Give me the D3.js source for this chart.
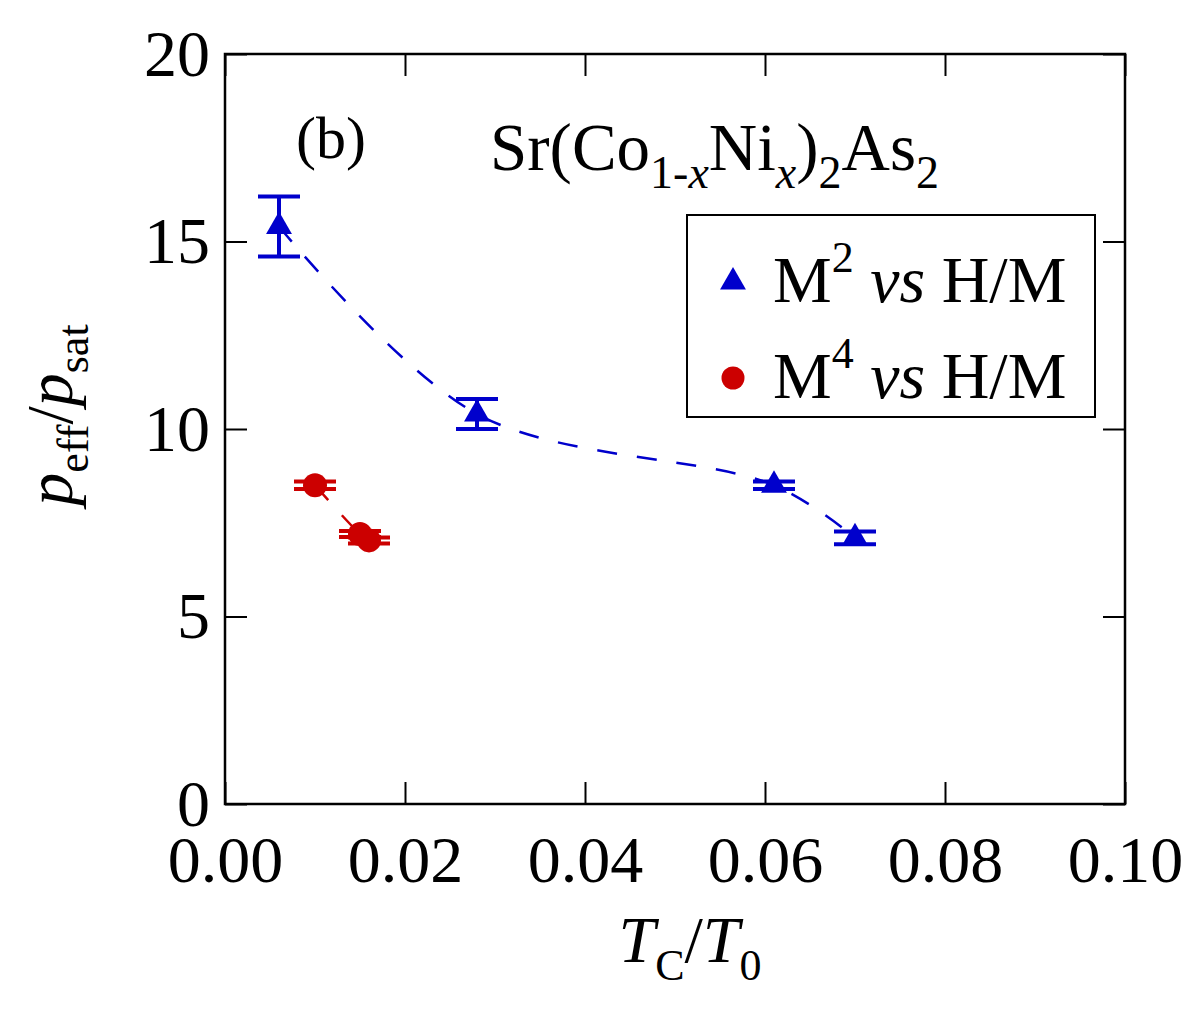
<!DOCTYPE html>
<html>
<meta charset="utf-8">
<head>
  <title>peff/psat vs Tc/T0</title>
</head>
<style>
body { margin: 0; background: white; }
text, tspan { font-family: "Liberation Serif", "Times New Roman", serif; fill: black; }
</style>
<body>
<div id="chart"></div>
<script src="https://d3js.org/d3.v7.min.js"></script>
<script>

// M^2 vs H/M (blue triangles)
var m2X = [0.006, 0.028, 0.061, 0.070];
var m2Y = [15.4, 10.4, 8.5, 7.1];
var m2Err = [0.8, 0.4, 0.1, 0.17];

// M^4 vs H/M (red circles)
var m4X = [0.010, 0.015, 0.016];
var m4Y = [8.5, 7.2, 7.03];
var m4Err = [0.1, 0.08, 0.08];

var xTicks = [0, 0.02, 0.04, 0.06, 0.08, 0.10];
var yTicks = [0, 5, 10, 15, 20];

var W = 1196, H = 1017;
var margin = {top: 54, right: 71, bottom: 213, left: 225};
var width = W - margin.left - margin.right;
var height = H - margin.top - margin.bottom;

var blue = "#0000cc", red = "#cc0000";

var svg = d3.select('#chart')
  .append('svg')
  .attr('width', W)
  .attr('height', H);

var g = svg.append('g')
  .attr('transform', `translate(${margin.left},${margin.top})`);

var x = d3.scaleLinear().domain([0, 0.10]).range([0, width]);
var y = d3.scaleLinear().domain([0, 20]).range([height, 0]);

// axes, ticks pointing inward
var tl = 22;
var xAxis = g.append('g')
  .attr('transform', `translate(0,${height})`)
  .call(d3.axisBottom(x).tickValues(xTicks).tickSize(-tl).tickPadding(31)
    .tickFormat(d3.format('.2f')));
var yAxis = g.append('g')
  .call(d3.axisLeft(y).tickValues(yTicks).tickSize(-tl).tickPadding(15)
    .tickFormat(d3.format('d')));
var xTop = g.append('g')
  .call(d3.axisTop(x).tickValues(xTicks).tickSize(-tl).tickFormat(''));
var yRight = g.append('g')
  .attr('transform', `translate(${width},0)`)
  .call(d3.axisRight(y).tickValues(yTicks).tickSize(-tl).tickFormat(''));

[xAxis, yAxis, xTop, yRight].forEach(function(a) {
  a.select('.domain').remove();
  a.selectAll('line').attr('stroke', 'black').attr('stroke-width', 2);
  a.selectAll('text')
    .style('font-family', '"Liberation Serif", serif')
    .style('font-size', '66px')
    .attr('fill', 'black');
});

g.append('rect')
  .attr('width', width)
  .attr('height', height)
  .attr('fill', 'none')
  .attr('stroke', 'black')
  .attr('stroke-width', 2.5);

var m2 = m2X.map(function(d, i) { return {x: d, y: m2Y[i], e: m2Err[i]}; });
var m4 = m4X.map(function(d, i) { return {x: d, y: m4Y[i], e: m4Err[i]}; });

// dashed guide lines
var line = d3.line()
  .x(function(d) { return x(d.x); })
  .y(function(d) { return y(d.y); })
  .curve(d3.curveCatmullRom);

g.append('path')
  .datum(m2)
  .attr('d', line)
  .attr('fill', 'none')
  .attr('stroke', blue)
  .attr('stroke-width', 2.5)
  .attr('stroke-dasharray', '20,20');

g.append('path')
  .datum(m4)
  .attr('d', line)
  .attr('fill', 'none')
  .attr('stroke', red)
  .attr('stroke-width', 2.5)
  .attr('stroke-dasharray', '20,20');

// error bars
function errorBars(data, color) {
  var cap = 21;
  var eb = g.append('g').selectAll('g')
    .data(data)
    .enter()
    .append('g')
    .attr('stroke', color)
    .attr('stroke-width', 4);
  eb.append('line')
    .attr('x1', function(d) { return x(d.x); })
    .attr('x2', function(d) { return x(d.x); })
    .attr('y1', function(d) { return y(d.y + d.e); })
    .attr('y2', function(d) { return y(d.y - d.e); });
  eb.append('line')
    .attr('x1', function(d) { return x(d.x) - cap; })
    .attr('x2', function(d) { return x(d.x) + cap; })
    .attr('y1', function(d) { return y(d.y + d.e); })
    .attr('y2', function(d) { return y(d.y + d.e); });
  eb.append('line')
    .attr('x1', function(d) { return x(d.x) - cap; })
    .attr('x2', function(d) { return x(d.x) + cap; })
    .attr('y1', function(d) { return y(d.y - d.e); })
    .attr('y2', function(d) { return y(d.y - d.e); });
}
errorBars(m2, blue);
errorBars(m4, red);

// markers
var tri = d3.symbol().type(d3.symbolTriangle).size(290);
g.append('g').selectAll('path')
  .data(m2)
  .enter()
  .append('path')
  .attr('d', tri)
  .attr('transform', function(d) { return `translate(${x(d.x)},${y(d.y)})`; })
  .attr('fill', blue);

g.append('g').selectAll('circle')
  .data(m4)
  .enter()
  .append('circle')
  .attr('cx', function(d) { return x(d.x); })
  .attr('cy', function(d) { return y(d.y); })
  .attr('r', 12)
  .attr('fill', red);

// legend
var lg = svg.append('g');
lg.append('rect')
  .attr('x', 687).attr('y', 215)
  .attr('width', 408).attr('height', 202)
  .attr('fill', 'white')
  .attr('stroke', 'black')
  .attr('stroke-width', 2);
lg.append('path')
  .attr('d', tri)
  .attr('transform', 'translate(733,282)')
  .attr('fill', blue);
lg.append('circle')
  .attr('cx', 733).attr('cy', 378).attr('r', 11.5)
  .attr('fill', red);

function legendText(yy, sup) {
  var t = lg.append('text')
    .attr('x', 773).attr('y', yy)
    .style('font-size', '66px');
  t.append('tspan').text('M');
  t.append('tspan').attr('dy', -30).style('font-size', '44px').text(sup);
  t.append('tspan').attr('dy', 30).text('\u00a0');
  t.append('tspan').style('font-style', 'italic').text('vs');
  t.append('tspan').text('\u00a0H/M');
}
legendText(302, '2');
legendText(398, '4');

// panel label and title
svg.append('text')
  .attr('x', 296).attr('y', 158)
  .style('font-size', '60px')
  .text('(b)');

var title = svg.append('text')
  .attr('x', 490).attr('y', 170)
  .style('font-size', '67px');
title.append('tspan').text('Sr(Co');
title.append('tspan').attr('dy', 18).style('font-size', '46px').text('1-');
title.append('tspan').style('font-size', '46px').style('font-style', 'italic').text('x');
title.append('tspan').attr('dy', -18).text('Ni');
title.append('tspan').attr('dy', 18).style('font-size', '46px').style('font-style', 'italic').text('x');
title.append('tspan').attr('dy', -18).text(')');
title.append('tspan').attr('dy', 18).style('font-size', '46px').text('2');
title.append('tspan').attr('dy', -18).text('As');
title.append('tspan').attr('dy', 18).style('font-size', '46px').text('2');

// axis titles
var xl = svg.append('text')
  .attr('x', 690).attr('y', 962)
  .attr('text-anchor', 'middle')
  .style('font-size', '66px');
xl.append('tspan').style('font-style', 'italic').text('T');
xl.append('tspan').attr('dy', 18).style('font-size', '44px').text('C');
xl.append('tspan').attr('dy', -18).text('/');
xl.append('tspan').style('font-style', 'italic').text('T');
xl.append('tspan').attr('dy', 18).style('font-size', '44px').text('0');

var yl = svg.append('text')
  .attr('transform', 'translate(72,415) rotate(-90)')
  .attr('text-anchor', 'middle')
  .style('font-size', '66px');
yl.append('tspan').style('font-style', 'italic').text('p');
yl.append('tspan').attr('dy', 16).style('font-size', '44px').text('eff');
yl.append('tspan').attr('dy', -16).text('/');
yl.append('tspan').style('font-style', 'italic').text('p');
yl.append('tspan').attr('dy', 16).style('font-size', '44px').text('sat');

</script>
</body>
</html>
